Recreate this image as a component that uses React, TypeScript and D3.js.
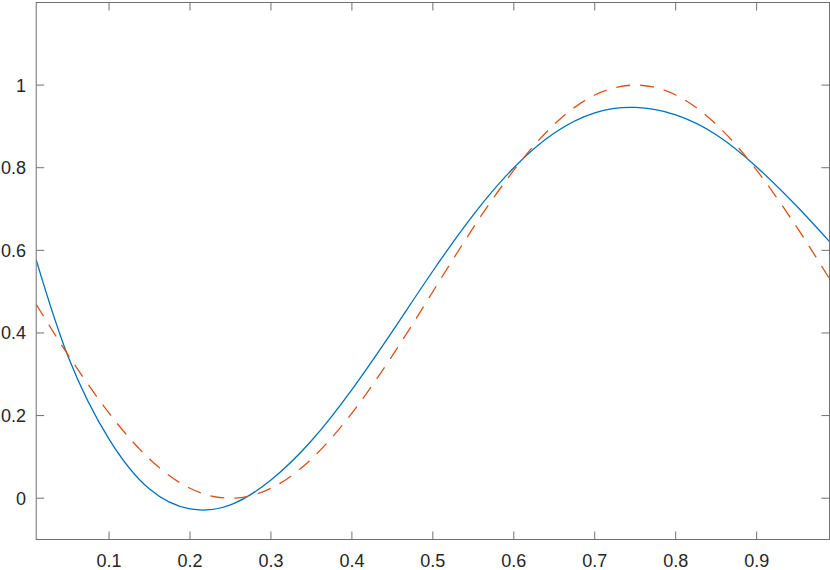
import React from "react";
import * as d3 from "d3";

const xs = [0.01, 0.05, 0.1, 0.15, 0.2, 0.25, 0.3, 0.35, 0.4, 0.45, 0.5, 0.55, 0.6, 0.65, 0.7, 0.75, 0.8, 0.85, 0.9, 0.95, 0.99];
const fitValues = [0.577, 0.34, 0.143, 0.022, -0.026, -0.016, 0.044, 0.139, 0.263, 0.404, 0.55, 0.686, 0.8, 0.884, 0.933, 0.946, 0.928, 0.88, 0.802, 0.706, 0.621];
const trueValues = [0.469, 0.345, 0.206, 0.095, 0.024, 0.0, 0.024, 0.095, 0.206, 0.345, 0.5, 0.655, 0.794, 0.905, 0.976, 1.0, 0.976, 0.905, 0.794, 0.655, 0.531];
const xTicks = [0.1, 0.2, 0.3, 0.4, 0.5, 0.6, 0.7, 0.8, 0.9];
const yTicks = [0, 0.2, 0.4, 0.6, 0.8, 1];
const xDomain = [0.01, 0.99];
const yDomain = [-0.1, 1.2];

const W = 830;
const H = 570;
const left = 36.2;
const right = 829.5;
const top = 2.5;
const bottom = 539.5;

export default function App() {
  const x = d3.scaleLinear().domain(xDomain).range([left, right]);
  const y = d3.scaleLinear().domain(yDomain).range([bottom, top]);
  const line = d3
    .line<number>()
    .x((_, i) => x(xs[i]))
    .y((d) => y(d))
    .curve(d3.curveNatural);
  const axisColor = "#707070";
  const textColor = "#262626";
  const tickLen = 8;
  const font = "'Liberation Sans', Arial, Helvetica, sans-serif";
  return (
    <svg
      width={W}
      height={H}
      style={{ position: "fixed", left: 0, top: 0, background: "#fff" }}
    >
      <rect x={0} y={0} width={W} height={H} fill="#fff" />
      <defs>
        <clipPath id="plotclip">
          <rect x={left} y={top} width={right - left} height={bottom - top} />
        </clipPath>
      </defs>
      <g clipPath="url(#plotclip)">
        <path d={line(fitValues) || ""} fill="none" stroke="#0072BD" strokeWidth={1.3} />
        <path
          d={line(trueValues) || ""}
          fill="none"
          stroke="#D95319"
          strokeWidth={1.3}
          strokeDasharray="14 10"
        />
      </g>
      <rect
        x={left}
        y={top}
        width={right - left}
        height={bottom - top}
        fill="none"
        stroke={axisColor}
        strokeWidth={1}
      />
      {xTicks.map((t) => (
        <g key={"x" + t}>
          <line x1={x(t)} x2={x(t)} y1={bottom} y2={bottom - tickLen} stroke={axisColor} />
          <line x1={x(t)} x2={x(t)} y1={top} y2={top + tickLen} stroke={axisColor} />
          <text
            x={x(t)}
            y={567}
            textAnchor="middle"
            fontFamily={font}
            fontSize={18}
            fill={textColor}
          >
            {d3.format(".1f")(t)}
          </text>
        </g>
      ))}
      {yTicks.map((t) => (
        <g key={"y" + t}>
          <line x1={left} x2={left + tickLen} y1={y(t)} y2={y(t)} stroke={axisColor} />
          <line x1={right} x2={right - tickLen} y1={y(t)} y2={y(t)} stroke={axisColor} />
          <text
            x={26}
            y={y(t)}
            dy="0.36em"
            textAnchor="end"
            fontFamily={font}
            fontSize={18}
            fill={textColor}
          >
            {t === 0 || t === 1 ? String(t) : d3.format(".1f")(t)}
          </text>
        </g>
      ))}
    </svg>
  );
}
